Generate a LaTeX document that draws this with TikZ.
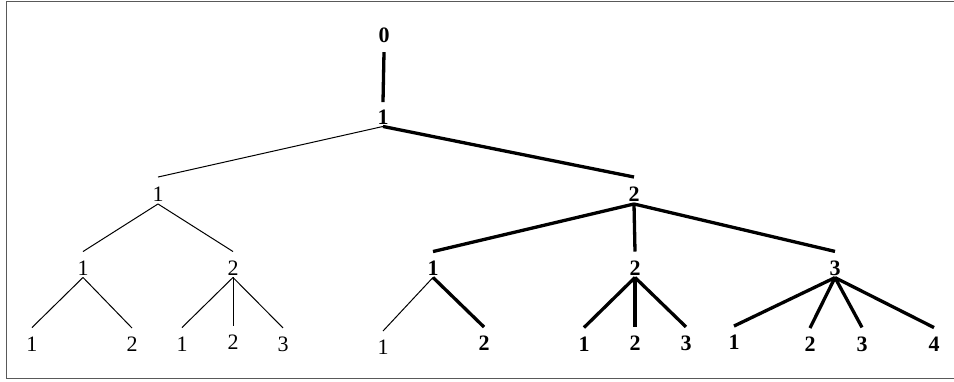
\documentclass[tikz,border=0pt]{standalone}
\usepackage{fontspec}
\setmainfont{Liberation Serif}
\begin{document}
\begin{tikzpicture}[x=1pt,y=-1pt,
  lab/.style={inner sep=0pt,font=\fontsize{22}{22}\selectfont},
  blab/.style={lab,font=\fontsize{22}{22}\selectfont\bfseries},
  thin edge/.style={line width=1pt},
  thick edge/.style={line width=3.3pt},
  frame/.style={draw=black!65,line width=1.5pt}]
\useasboundingbox (0,0) rectangle (954,381);
\draw[frame] (956,1.5) -- (6.5,1.5) -- (6.5,378.5) -- (956,378.5);
\newcommand{\tedge}[3]{\draw[#3] ([yshift=-2pt]#1.south) -- ([yshift=9pt]#2.north);}
% level 0 / 1
\node[blab] (z) at (384,35.5) {0};
\node[blab] (r) at (383,117.5) {1};
% level 2
\node[lab] (a) at (158,194.5) {1};
\node[blab] (b) at (634,194.5) {2};
% level 3
\node[lab] (a1) at (83,268) {1};
\node[lab] (a2) at (233,268) {2};
\node[blab] (b1) at (433,268) {1};
\node[blab] (b2) at (635,268) {2};
\node[blab] (b3) at (835,268) {3};
% leaves
\node[lab] (a11) at (32,344) {1};
\node[lab] (a12) at (132,344.5) {2};
\node[lab] (a21) at (182,344) {1};
\node[lab] (a22) at (233,342.5) {2};
\node[lab] (a23) at (283,344.5) {3};
\node[lab] (b11) at (383,347.5) {1};
\node[blab] (b12) at (484,343.5) {2};
\node[blab] (b21) at (584,344) {1};
\node[blab] (b22) at (635,343) {2};
\node[blab] (b23) at (686,343.5) {3};
\node[blab] (b31) at (734,342.5) {1};
\node[blab] (b32) at (810,344.5) {2};
\node[blab] (b33) at (862,344) {3};
\node[blab] (b34) at (934,344) {4};
% edges
\draw[thick edge] ([yshift=-9pt]z.south) -- ([yshift=8pt]r.north);
\draw[thin edge] ([yshift=-1.5pt]r.south) -- ([yshift=10pt]a.north);
\draw[thick edge] ([yshift=-1.5pt]r.south) -- ([yshift=10pt]b.north);
\tedge{a}{a1}{thin edge}
\tedge{a}{a2}{thin edge}
\tedge{b}{b1}{thick edge}
\tedge{b}{b2}{thick edge}
\tedge{b}{b3}{thick edge}
\tedge{a1}{a11}{thin edge}
\tedge{a1}{a12}{thin edge}
\tedge{a2}{a21}{thin edge}
\tedge{a2}{a22}{thin edge}
\tedge{a2}{a23}{thin edge}
\tedge{b1}{b11}{thin edge}
\tedge{b1}{b12}{thick edge}
\tedge{b2}{b21}{thick edge}
\tedge{b2}{b22}{thick edge}
\tedge{b2}{b23}{thick edge}
\tedge{b3}{b31}{thick edge}
\tedge{b3}{b32}{thick edge}
\tedge{b3}{b33}{thick edge}
\tedge{b3}{b34}{thick edge}
\end{tikzpicture}
\end{document}
